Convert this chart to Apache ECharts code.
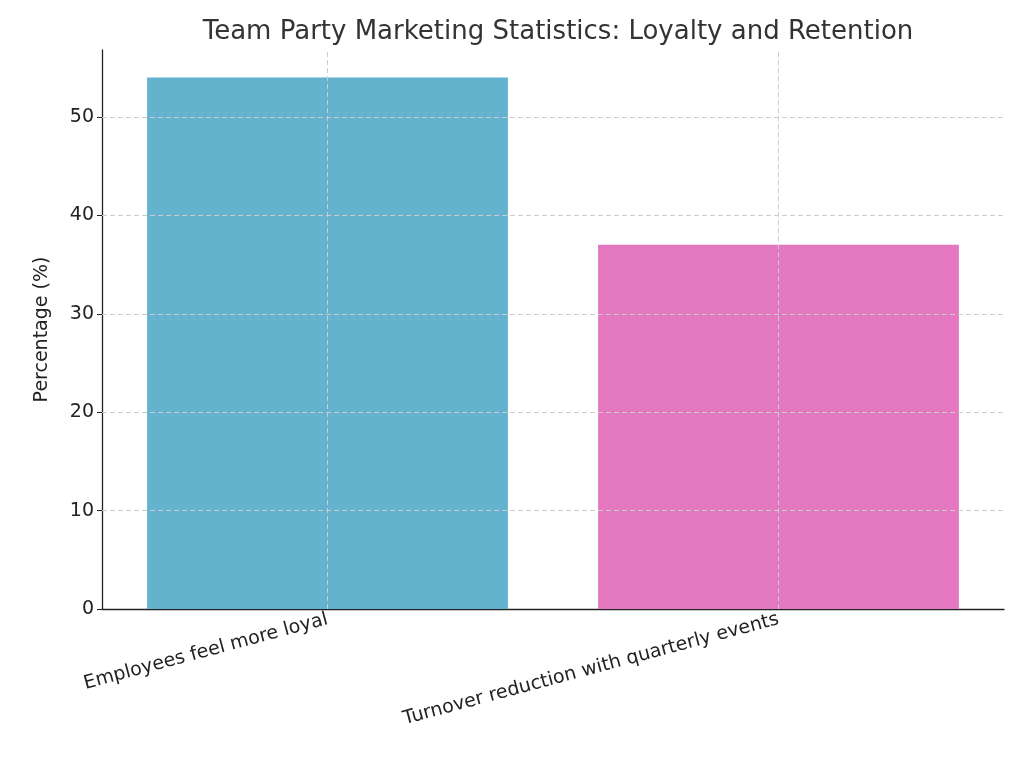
<!DOCTYPE html>
<html><head><meta charset="utf-8">
<script src="https://cdn.jsdelivr.net/npm/echarts@6/dist/echarts.min.js"></script>
<style>html,body{margin:0;padding:0;background:#fff}#c{width:1024px;height:768px}</style>
</head><body><div id="c"></div>
<script>
const categories = ['Employees feel more loyal', 'Turnover reduction with quarterly events'];
const values = [54, 37];
const barColors = ['#63b3ce', '#e377c0'];
const yTicks = [0, 10, 20, 30, 40, 50];

const font = 'DejaVu Sans';
const gridLine = {color: '#cccccc', type: [5, 3], width: 1};
const chart = echarts.init(document.getElementById('c'));
chart.setOption({
  animation: false,
  textStyle: {fontFamily: font},
  title: {text: 'Team Party Marketing Statistics: Loyalty and Retention', left: 553, top: 14, textAlign: 'center',
    textStyle: {fontFamily: font, fontSize: 26, fontWeight: 'normal', color: '#333'}},
  grid: {left: 102, right: 20, top: 50, bottom: 159},
  xAxis: {type: 'category', data: categories,
    axisLine: {lineStyle: {color: '#222', width: 1.3}},
    axisTick: {alignWithLabel: true, length: 5, lineStyle: {color: '#222'}},
    axisLabel: {rotate: 15, fontSize: 19, color: '#222', margin: 10, interval: 0},
    splitLine: {show: false}},
  yAxis: {type: 'value', min: 0, max: 56.8, interval: 10,
    name: 'Percentage (%)', nameLocation: 'middle', nameGap: 50,
    nameTextStyle: {fontSize: 19, color: '#222'},
    axisLine: {show: true, lineStyle: {color: '#222', width: 1.3}},
    axisTick: {show: true, length: 5, customValues: yTicks, lineStyle: {color: '#222'}},
    axisLabel: {fontSize: 19, color: '#222', customValues: yTicks},
    splitLine: {show: false}},
  series: [{
    type: 'bar', barWidth: '80%',
    data: values.map((v, i) => ({value: v, itemStyle: {color: barColors[i]}})),
    markLine: {silent: true, symbol: 'none', label: {show: false}, lineStyle: gridLine,
      data: categories.map(c => ({xAxis: c})).concat(yTicks.slice(1).map(t => ({yAxis: t})))}
  }]
});
</script></body></html>
